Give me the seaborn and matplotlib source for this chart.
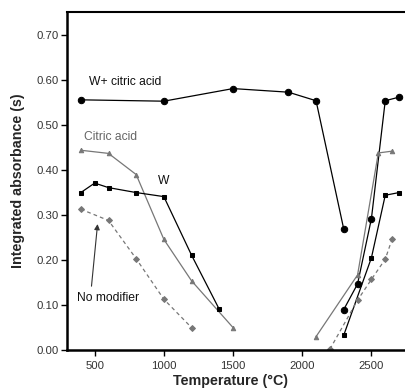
import matplotlib
matplotlib.use("Agg")
import matplotlib.pyplot as plt
import seaborn as sns
import pandas as pd

sns.set_theme(style="white")
plt.rcParams['font.family'] = ['Liberation Sans', 'DejaVu Sans']

# W + citric acid (two branches)
wca_low_t = [400, 1000, 1500, 1900, 2100, 2300]
wca_low_a = [0.556, 0.553, 0.581, 0.573, 0.554, 0.269]
wca_high_t = [2300, 2400, 2500, 2600, 2700]
wca_high_a = [0.090, 0.147, 0.292, 0.554, 0.562]

# Citric acid
ca_low_t = [400, 600, 800, 1000, 1200, 1500]
ca_low_a = [0.444, 0.437, 0.390, 0.246, 0.154, 0.050]
ca_high_t = [2100, 2400, 2550, 2650]
ca_high_a = [0.030, 0.167, 0.438, 0.442]

# W
w_low_t = [400, 500, 600, 800, 1000, 1200, 1400]
w_low_a = [0.350, 0.371, 0.361, 0.350, 0.341, 0.211, 0.091]
w_high_t = [2300, 2500, 2600, 2700]
w_high_a = [0.033, 0.205, 0.344, 0.350]

# No modifier
nm_low_t = [400, 600, 800, 1000, 1200]
nm_low_a = [0.313, 0.288, 0.203, 0.113, 0.050]
nm_high_t = [2200, 2400, 2500, 2600, 2650]
nm_high_a = [0.002, 0.111, 0.157, 0.202, 0.247]

x_ticks = [500, 1000, 1500, 2000, 2500]
y_ticks = [0.00, 0.10, 0.20, 0.30, 0.40, 0.50, 0.60, 0.70]

fig = plt.figure(figsize=(4.06, 3.89), dpi=100)
ax = fig.add_axes([0.165, 0.100, 0.835, 0.869])

styles = {
    "wca": dict(color="black", marker="o", markersize=4.6, linestyle="-", linewidth=0.9),
    "ca": dict(color="#777777", marker="^", markersize=3.2, linestyle="-", linewidth=0.9),
    "w": dict(color="black", marker="s", markersize=3.0, linestyle="-", linewidth=0.9),
    "nm": dict(color="#777777", marker="D", markersize=3.0, linestyle=(0, (3, 2.5)), linewidth=0.9),
}
segments = [
    ("wca", wca_low_t, wca_low_a), ("wca", wca_high_t, wca_high_a),
    ("ca", ca_low_t, ca_low_a), ("ca", ca_high_t, ca_high_a),
    ("w", w_low_t, w_low_a), ("w", w_high_t, w_high_a),
    ("nm", nm_low_t, nm_low_a), ("nm", nm_high_t, nm_high_a),
]
for key, t, a in segments:
    st = styles[key]
    df = pd.DataFrame({"T": t, "A": a})
    sns.lineplot(data=df, x="T", y="A", ax=ax, sort=False, estimator=None,
                 color=st["color"], marker=st["marker"], markersize=st["markersize"],
                 markeredgecolor=st["color"], linestyle=st["linestyle"],
                 linewidth=st["linewidth"], legend=False)

ax.set_xlim(300, 2750)
ax.set_ylim(0, 0.751)
ax.set_xticks(x_ticks)
ax.set_xticklabels([str(v) for v in x_ticks])
ax.set_yticks(y_ticks)
ax.set_yticklabels([f"{v:.2f}" for v in y_ticks])
ax.tick_params(axis="both", direction="out", length=4, width=1.0, labelsize=8.2,
               colors="black", labelcolor="#333333", left=True, bottom=True, pad=2)
ax.tick_params(axis="x", pad=4)

for s in ["left", "bottom"]:
    ax.spines[s].set_linewidth(1.8)
    ax.spines[s].set_color("black")
ax.spines["top"].set_linewidth(1.5)
ax.spines["top"].set_color("black")
ax.spines["right"].set_visible(False)

ax.set_xlabel("Temperature (°C)", fontsize=10.3, fontweight="bold")
ax.set_ylabel("Integrated absorbance (s)", fontsize=10.3, fontweight="bold")
ax.xaxis.set_label_coords(0.482, -0.072)
ax.yaxis.set_label_coords(-0.125, 0.5)

ax.text(720, 0.596, "W+ citric acid", fontsize=8.7, ha="center", va="center", color="#111111")
ax.text(618, 0.474, "Citric acid", fontsize=8.7, ha="center", va="center", color="#666666")
ax.text(1000, 0.376, "W", fontsize=8.7, ha="center", va="center", color="#111111")
ax.text(600, 0.115, "No modifier", fontsize=8.7, ha="center", va="center", color="#111111")
ax.annotate("", xy=(521, 0.280), xytext=(477, 0.142),
            arrowprops=dict(arrowstyle="-|>", color="#333333", lw=0.8,
                            mutation_scale=8, shrinkA=0, shrinkB=0))

fig.savefig("out.png", dpi=100)
